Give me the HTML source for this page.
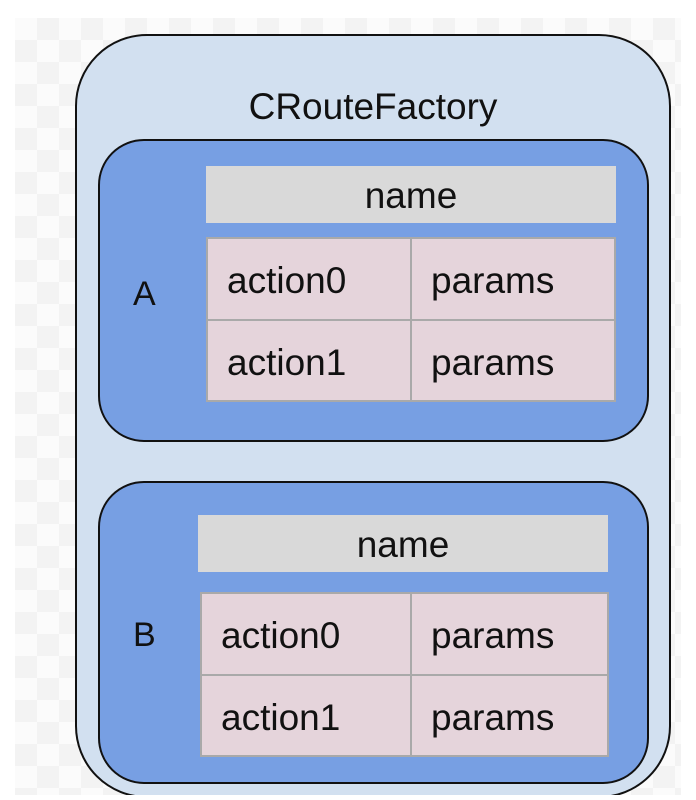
<!DOCTYPE html>
<html><head><style>
html,body{margin:0;padding:0;width:696px;height:800px;overflow:hidden;}
body{position:relative;background:#fff;font-family:"Liberation Sans",sans-serif;color:#111;}
.bg{position:absolute;left:15px;top:18px;width:666px;height:777px;background-color:#fbfbfb;
background-image:linear-gradient(45deg,#f3f3f3 25%,transparent 25%,transparent 75%,#f3f3f3 75%),linear-gradient(45deg,#f3f3f3 25%,transparent 25%,transparent 75%,#f3f3f3 75%);
background-size:44px 44px;background-position:0 0,22px 22px;}
.clip{position:absolute;left:0;top:0;width:696px;height:795px;overflow:hidden;}
.outer{position:absolute;left:75px;top:34px;width:596px;height:764px;background:#d2e0f0;border:2px solid #111;border-radius:72px;box-sizing:border-box;}
.title{position:absolute;left:0;width:746px;top:86px;text-align:center;font-size:37px;}
.inner{position:absolute;left:98px;width:551px;height:303px;background:#779fe3;border:2px solid #111;border-radius:46px;box-sizing:border-box;}
.name{position:absolute;width:410px;height:57px;background:#d9d9d9;font-size:37px;line-height:60px;text-align:center;}
.tbl{position:absolute;width:410px;height:165px;background:#a9a9a9;}
.c{position:absolute;background:#e5d4db;font-size:37px;line-height:84px;box-sizing:border-box;}
.lbl{position:absolute;font-size:34px;}
</style></head><body>
<div class="bg"></div>
<div class="clip"><div class="outer"></div></div>
<div class="title">CRouteFactory</div>

<div class="inner" style="top:139px"></div>
<div class="lbl" style="left:133px;top:275px">A</div>
<div class="name" style="left:206px;top:166px">name</div>
<div class="tbl" style="left:206px;top:237px">
 <div class="c" style="left:2px;top:2px;width:202px;height:80px;padding-left:19px">action0</div>
 <div class="c" style="left:206px;top:2px;width:202px;height:80px;padding-left:19px">params</div>
 <div class="c" style="left:2px;top:84px;width:202px;height:79px;padding-left:19px">action1</div>
 <div class="c" style="left:206px;top:84px;width:202px;height:79px;padding-left:19px">params</div>
</div>

<div class="inner" style="top:481px"></div>
<div class="lbl" style="left:133px;top:616px">B</div>
<div class="name" style="left:198px;top:515px">name</div>
<div class="tbl" style="left:200px;top:592px;width:409px">
 <div class="c" style="left:2px;top:2px;width:208px;height:80px;padding-left:19px">action0</div>
 <div class="c" style="left:212px;top:2px;width:195px;height:80px;padding-left:19px">params</div>
 <div class="c" style="left:2px;top:84px;width:208px;height:79px;padding-left:19px">action1</div>
 <div class="c" style="left:212px;top:84px;width:195px;height:79px;padding-left:19px">params</div>
</div>
</body></html>
